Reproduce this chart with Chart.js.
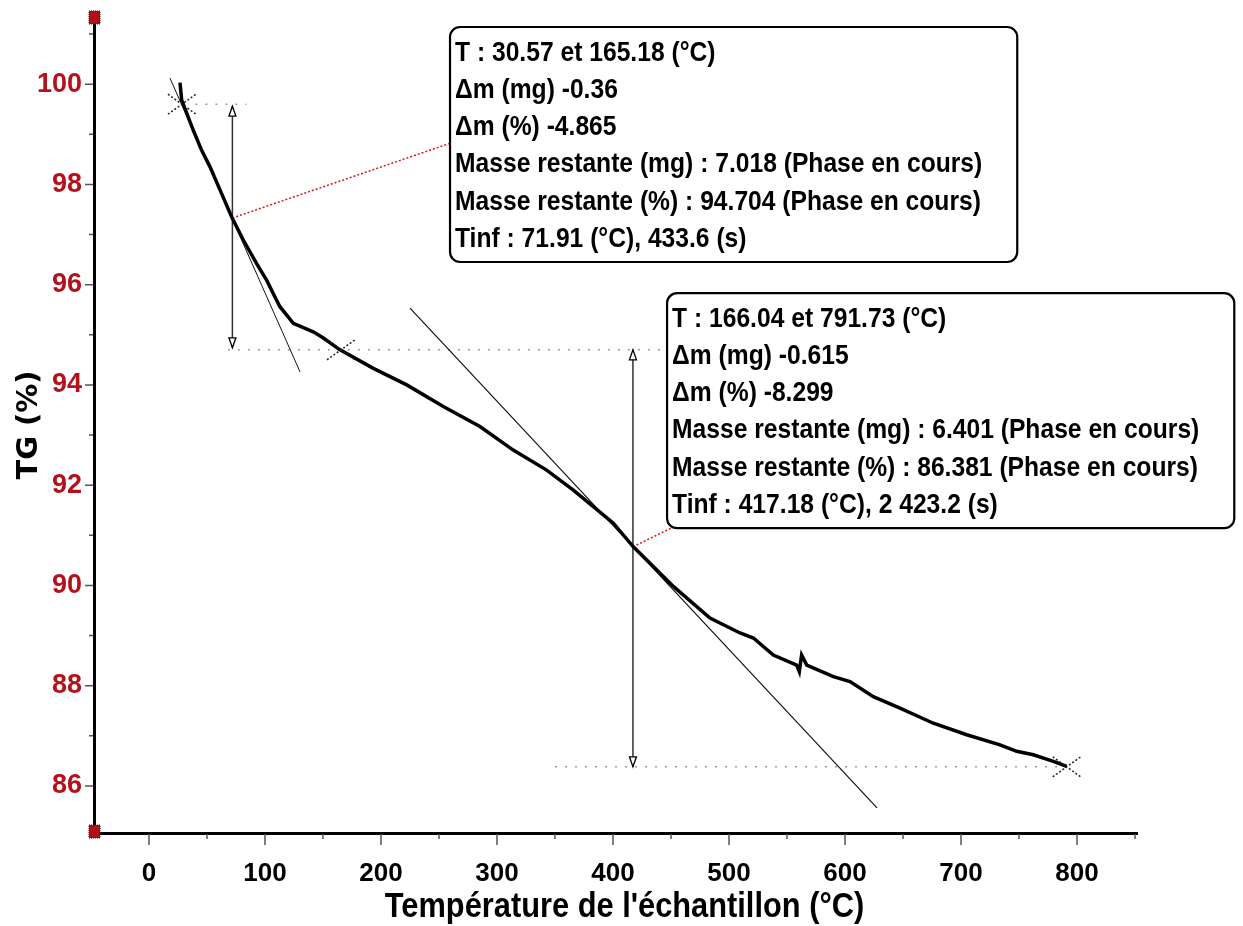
<!DOCTYPE html>
<html>
<head>
<meta charset="utf-8">
<style>
  html, body { margin: 0; padding: 0; background: #fff; }
  #chart { display: block; }
</style>
</head>
<body>
<canvas id="chart" width="1243" height="926"></canvas>
<script src="https://cdn.jsdelivr.net/npm/chart.js@4.4.1/dist/chart.umd.min.js"></script>
<script>
const SANS = "'Liberation Sans', Arial, sans-serif";
const RED = '#b3121c';
const NARROW_FACTOR = 0.88; // squeeze Liberation Sans towards the narrow face of the original

// TG curve: sample temperature (°C) and mass (%)
const tgTemp = [26.7, 28.2, 32.5, 38.2, 45.4, 52.6, 61.2, 71.3, 81.3, 92.8, 101.4, 110, 112.9, 124.4,
  141.6, 150, 164.7, 193.4, 222.2, 253.7, 285.3, 314, 342.8, 365.8, 383, 400.3, 417.5, 431.9, 452,
  483.6, 509.5, 521, 538.2, 558.3, 560.6, 562.6, 567, 590, 604.3, 624.4, 647.4, 676.1, 704.9, 733.6,
  748, 762.3, 779.6, 791.1];
const tgMass = [100.03, 99.68, 99.42, 99.08, 98.68, 98.35, 97.89, 97.35, 96.89, 96.42, 96.09, 95.69, 95.56, 95.23,
  95.06, 94.94, 94.70, 94.33, 94.00, 93.57, 93.17, 92.70, 92.30, 91.90, 91.57, 91.24, 90.77, 90.44, 89.98,
  89.35, 89.05, 88.95, 88.61, 88.41, 88.28, 88.61, 88.41, 88.18, 88.08, 87.78, 87.55, 87.25, 87.02, 86.82,
  86.69, 86.62, 86.49, 86.39];

// tangents at the inflection points
const tangent1Temp = [18.1, 130.2];
const tangent1Mass = [100.12, 94.26];
const tangent2Temp = [225, 627.6];
const tangent2Mass = [95.53, 85.56];

// step limits (crosses) and levels
const markTemp = [28.4, 165.5, 791.1];
const markMass = [99.6, 94.70, 86.38];
const levelMass = [99.6, 94.70, 86.38];
const levelFrom = [40, 68, 350];
const levelTo = [84, 443, 791];

// vertical Δm arrows at Tinf
const infTemp = [71.91, 417.18];
const infMass = [97.33, 90.77];
const arrowTop = [99.56, 94.70];
const arrowBottom = [94.74, 86.38];

// annotation boxes and their leaders
const leaderTemp = [259.5, 450.9];
const leaderMass = [98.82, 91.15];
const boxTemp = [259.5, 446.6];
const boxMass = [101.14, 95.83];
const boxLines = [
  ['T : 30.57 et 165.18 (°C)', 'Δm (mg) -0.36', 'Δm (%) -4.865',
   'Masse restante (mg) : 7.018 (Phase en cours)', 'Masse restante (%) : 94.704 (Phase en cours)',
   'Tinf : 71.91 (°C), 433.6 (s)'],
  ['T : 166.04 et 791.73 (°C)', 'Δm (mg) -0.615', 'Δm (%) -8.299',
   'Masse restante (mg) : 6.401 (Phase en cours)', 'Masse restante (%) : 86.381 (Phase en cours)',
   'Tinf : 417.18 (°C), 2 423.2 (s)']
];

// axes
const xMin = -47.4, xMax = 851.7;
const yMin = 85.06, yMax = 101.34;
const xTitle = "Température de l'échantillon (°C)";
const xTickLabels = [0, 100, 200, 300, 400, 500, 600, 700, 800];
const xMinorTicks = [50, 150, 250, 350, 450, 550, 650, 750, 850];
const yTickLabels = [86, 88, 90, 92, 94, 96, 98, 100];
const yMinorTicks = [87, 89, 91, 93, 95, 97, 99, 101];

const pts = (xs, ys) => xs.map((v, i) => ({ x: v, y: ys[i] }));

const datasets = [
  { data: pts(tgTemp, tgMass), borderColor: '#000', borderWidth: 3.5, order: 0 },
  { data: pts(tangent1Temp, tangent1Mass), borderColor: '#111', borderWidth: 1, order: 2 },
  { data: pts(tangent2Temp, tangent2Mass), borderColor: '#111', borderWidth: 1.2, order: 2 },
];
levelMass.forEach((m, i) => datasets.push({
  data: [{ x: levelFrom[i], y: m }, { x: levelTo[i], y: m }],
  borderColor: '#9a9a9a', borderWidth: 1.5, borderDash: [2, 8], order: 3,
}));
infTemp.forEach((t, i) => {
  datasets.push({
    data: [{ x: t, y: arrowTop[i] }, { x: t, y: arrowBottom[i] }],
    borderColor: '#333', borderWidth: 1.5, order: 2,
  });
  datasets.push({
    data: [{ x: t, y: infMass[i] }, { x: leaderTemp[i], y: leaderMass[i] }],
    borderColor: '#d81818', borderWidth: 1.5, borderDash: [2, 2], order: 1,
  });
});
datasets.forEach(d => { d.showLine = true; d.pointRadius = 0; d.fill = false; d.tension = 0; });

function arrowHead(ctx, px, py, dir) {
  // dir -1 : points up, +1 : points down
  ctx.beginPath();
  ctx.moveTo(px, py);
  ctx.lineTo(px - 3.5, py - dir * 10);
  ctx.lineTo(px + 3.5, py - dir * 10);
  ctx.closePath();
  ctx.fillStyle = '#fff';
  ctx.fill();
  ctx.strokeStyle = '#000';
  ctx.lineWidth = 1.3;
  ctx.stroke();
}

function narrowText(ctx, s, px, py) {
  ctx.save();
  ctx.translate(px, py);
  ctx.scale(NARROW_FACTOR, 1);
  ctx.fillText(s, 0, 0);
  ctx.restore();
}

const decor = {
  id: 'decor',
  afterDatasetsDraw(chart) {
    const { ctx, scales: { x, y } } = chart;
    ctx.save();
    infTemp.forEach((t, i) => {
      const px = x.getPixelForValue(t);
      arrowHead(ctx, px, y.getPixelForValue(arrowTop[i]), -1);
      arrowHead(ctx, px, y.getPixelForValue(arrowBottom[i]), 1);
    });
    // dotted crosses at the step limits
    ctx.strokeStyle = '#222';
    ctx.lineWidth = 1.5;
    ctx.setLineDash([2, 2]);
    markTemp.forEach((t, i) => {
      const px = x.getPixelForValue(t), py = y.getPixelForValue(markMass[i]);
      ctx.beginPath();
      ctx.moveTo(px - 14, py - 10); ctx.lineTo(px + 14, py + 10);
      ctx.moveTo(px - 14, py + 10); ctx.lineTo(px + 14, py - 10);
      ctx.stroke();
    });
    ctx.restore();
  },
  afterDraw(chart) {
    const { ctx, chartArea: a, scales: { x, y } } = chart;
    ctx.save();
    // tick marks
    ctx.strokeStyle = '#555';
    ctx.lineWidth = 1.5;
    ctx.beginPath();
    yTickLabels.forEach(v => { const py = y.getPixelForValue(v); ctx.moveTo(a.left - 9, py); ctx.lineTo(a.left - 1, py); });
    yMinorTicks.forEach(v => { const py = y.getPixelForValue(v); ctx.moveTo(a.left - 5, py); ctx.lineTo(a.left - 1, py); });
    xTickLabels.forEach(v => { const px = x.getPixelForValue(v); ctx.moveTo(px, a.bottom + 1); ctx.lineTo(px, a.bottom + 12); });
    xMinorTicks.forEach(v => { const px = x.getPixelForValue(v); ctx.moveTo(px, a.bottom + 1); ctx.lineTo(px, a.bottom + 6); });
    ctx.stroke();

    // red end squares on the y axis
    [a.top, a.bottom - 2].forEach(py => {
      ctx.fillStyle = '#b0101a';
      ctx.fillRect(a.left - 5, py - 6, 11, 13);
      ctx.setLineDash([1, 1]);
      ctx.strokeStyle = '#5a0000';
      ctx.lineWidth = 1;
      ctx.strokeRect(a.left - 5, py - 6, 11, 13);
      ctx.setLineDash([]);
    });

    // x axis title (sits a little right of the plot centre in the original)
    ctx.fillStyle = '#000';
    ctx.font = `bold 35px ${SANS}`;
    ctx.textBaseline = 'middle';
    const tw = ctx.measureText(xTitle).width * NARROW_FACTOR;
    narrowText(ctx, xTitle, (a.left + a.right) / 2 + 9 - tw / 2, a.bottom + 74);

    // annotation boxes
    ctx.font = `bold 28px ${SANS}`;
    boxLines.forEach((lines, i) => {
      const bx = x.getPixelForValue(boxTemp[i]);
      const by = y.getPixelForValue(boxMass[i]);
      const w = Math.max(...lines.map(s => ctx.measureText(s).width)) * NARROW_FACTOR + 40;
      const h = 235;
      ctx.beginPath();
      ctx.roundRect(bx, by, w, h, 10);
      ctx.fillStyle = '#fff';
      ctx.fill();
      ctx.strokeStyle = '#000';
      ctx.lineWidth = 2.2;
      ctx.stroke();
      ctx.fillStyle = '#000';
      lines.forEach((s, k) => narrowText(ctx, s, bx + 5, by + 26 + k * 37.2));
    });
    ctx.restore();
  }
};

new Chart(document.getElementById('chart'), {
  type: 'scatter',
  data: { datasets },
  options: {
    responsive: false,
    animation: false,
    events: [],
    layout: { padding: { top: 17, right: 106, left: 0, bottom: 0 } },
    plugins: { legend: { display: false }, tooltip: { enabled: false } },
    scales: {
      x: {
        type: 'linear', min: xMin, max: xMax,
        afterBuildTicks: s => { s.ticks = xTickLabels.map(v => ({ value: v })); },
        afterFit: s => { s.height = 93; s.paddingLeft = 0; s.paddingRight = 0; },
        grid: { drawOnChartArea: false, drawTicks: false },
        border: { display: true, color: '#000', width: 3 },
        ticks: {
          autoSkip: false, maxRotation: 0, padding: 25, color: '#000',
          font: { family: SANS, size: 26, weight: 'bold' },
          callback: v => String(v),
        },
      },
      y: {
        type: 'linear', min: yMin, max: yMax,
        afterBuildTicks: s => { s.ticks = yTickLabels.map(v => ({ value: v })); },
        afterFit: s => { s.width = 94; s.paddingTop = 0; s.paddingBottom = 0; },
        grid: { drawOnChartArea: false, drawTicks: false },
        border: { display: true, color: '#000', width: 3 },
        ticks: {
          padding: 12, color: RED,
          font: { family: SANS, size: 27, weight: 'bold' },
          callback: v => String(v),
        },
        title: {
          display: true, text: 'TG (%)', color: '#000',
          font: { family: "'DejaVu Sans', sans-serif", size: 29, weight: 'bold' },
          padding: { top: 12, bottom: 0 },
        },
      },
    },
  },
  plugins: [decor],
});
</script>
</body>
</html>
